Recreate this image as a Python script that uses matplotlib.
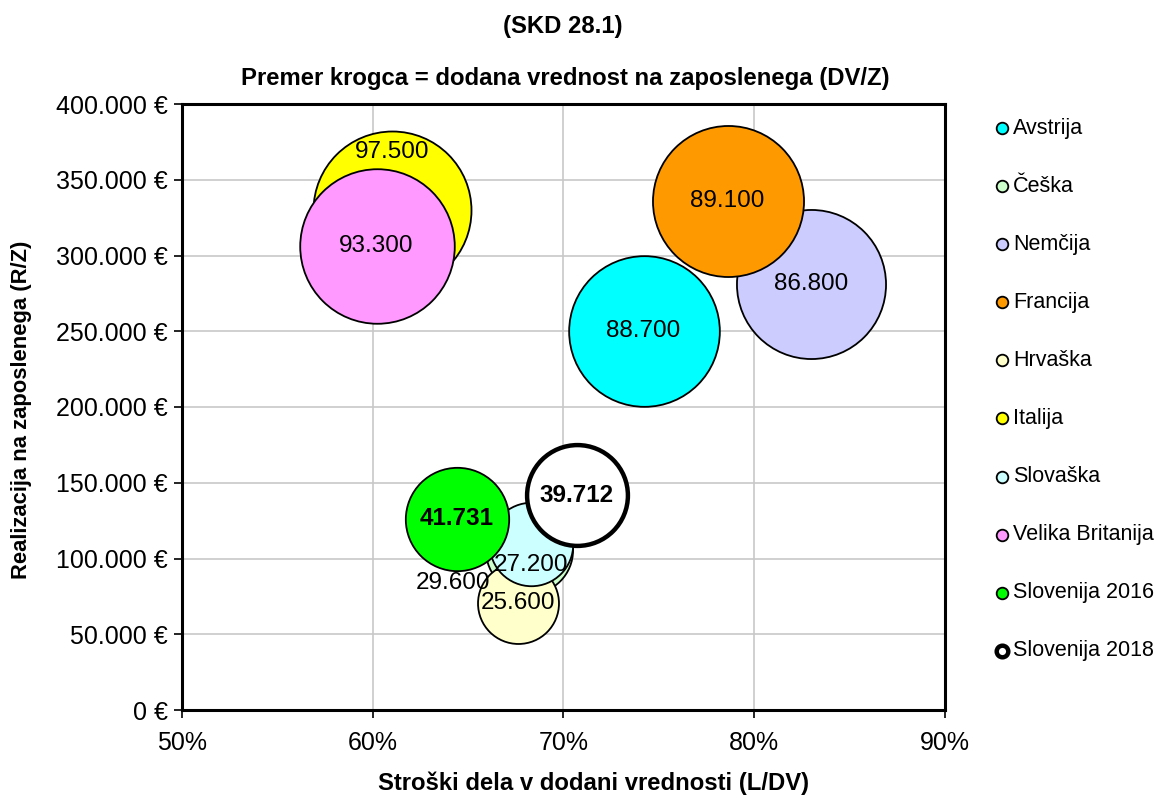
import numpy as np
import matplotlib.pyplot as plt
from matplotlib.ticker import FuncFormatter, MultipleLocator

plt.rcParams['font.family'] = ['Liberation Sans', 'DejaVu Sans']

# data
countries = ['Avstrija', 'Češka', 'Nemčija', 'Francija', 'Hrvaška', 'Italija',
             'Slovaška', 'Velika Britanija', 'Slovenija 2016', 'Slovenija 2018']
labour_share = [0.742, 0.682, 0.830, 0.786, 0.676, 0.610, 0.683, 0.602, 0.644, 0.707]
revenue_per_emp = [250000, 105600, 281000, 336200, 70300, 330000, 109600, 306000, 126100, 141600]
value_added = [88700, 29600, 86800, 89100, 25600, 97500, 27200, 93300, 41731, 39712]
colors = ['#00FFFF', '#CCFFCC', '#CCCCFF', '#FF9900', '#FFFFCC', '#FFFF00',
          '#CCFFFF', '#FF99FF', '#00FF00', '#FFFFFF']
x_ticks = [0.5, 0.6, 0.7, 0.8, 0.9]


def thousands(v):
    return '{:,.0f}'.format(v).replace(',', '.')


def main():
    fig = plt.figure(figsize=(11.55, 7.96), dpi=100)
    ax = fig.add_axes([182/1155, 1-710/796, (945-182)/1155, (710-104)/796])

    # bubble area proportional to value added, radius ~8 px per sqrt(thousand)
    size_scale = (2 * 8 * 0.72) ** 2 / 1000
    label_off = {1: (-55, -24), 5: (0, 42), 6: (0, -15)}
    for i, name in enumerate(countries):
        last = name == 'Slovenija 2018'
        ax.scatter(labour_share[i], revenue_per_emp[i], s=value_added[i] * size_scale,
                   c=colors[i], edgecolors='black', linewidths=3.2 if last else 1.3,
                   zorder=3 + i, label=name)
        bold = name.startswith('Slovenija')
        dx, dy = label_off.get(i, (0, 0))
        ax.annotate(thousands(value_added[i]), (labour_share[i], revenue_per_emp[i]),
                    xytext=(dx, dy), textcoords='offset points',
                    ha='center', va='center', fontsize=17.5,
                    fontweight='bold' if bold else 'normal', zorder=20 + i)

    ax.set_xlim(0.5, 0.9)
    ax.set_ylim(0, 400000)
    ax.set_xticks(x_ticks)
    ax.yaxis.set_major_locator(MultipleLocator(50000))
    ax.xaxis.set_major_formatter(FuncFormatter(lambda v, p: '{:.0f}%'.format(v * 100)))
    ax.yaxis.set_major_formatter(FuncFormatter(lambda v, p: thousands(v) + ' €'))
    ax.tick_params(labelsize=18, direction='out', length=6, width=1.2)
    ax.tick_params(axis='x', pad=9)
    ax.tick_params(axis='y', pad=4)
    ax.grid(True, color='#C8C8C8', linewidth=1.2, zorder=0)
    ax.set_axisbelow(True)
    for sp in ax.spines.values():
        sp.set_linewidth(2.2)
        sp.set_color('black')

    fig.text(563/1155, 1-27/796, '(SKD 28.1)', ha='center', va='center',
             fontsize=17.2, fontweight='bold')
    fig.text(565/1155, 1-78/796, 'Premer krogca = dodana vrednost na zaposlenega (DV/Z)',
             ha='center', va='center', fontsize=17.2, fontweight='bold')
    fig.text(594/1155, 1-783/796, 'Stroški dela v dodani vrednosti (L/DV)',
             ha='center', va='center', fontsize=17.2, fontweight='bold')
    fig.text(22/1155, 1-410/796, 'Realizacija na zaposlenega (R/Z)', rotation=90,
             ha='center', va='center', fontsize=15.8, fontweight='bold')

    leg = fig.legend(loc='upper left', bbox_to_anchor=(996/1155, 1-118/796),
                     frameon=False, fontsize=15.5, labelspacing=1.72,
                     handlelength=0.6, handletextpad=0.2, borderaxespad=0,
                     borderpad=0)
    for h in leg.legend_handles:
        h.set_sizes([70])

    fig.savefig('out.png', dpi=100)


if __name__ == '__main__':
    main()
